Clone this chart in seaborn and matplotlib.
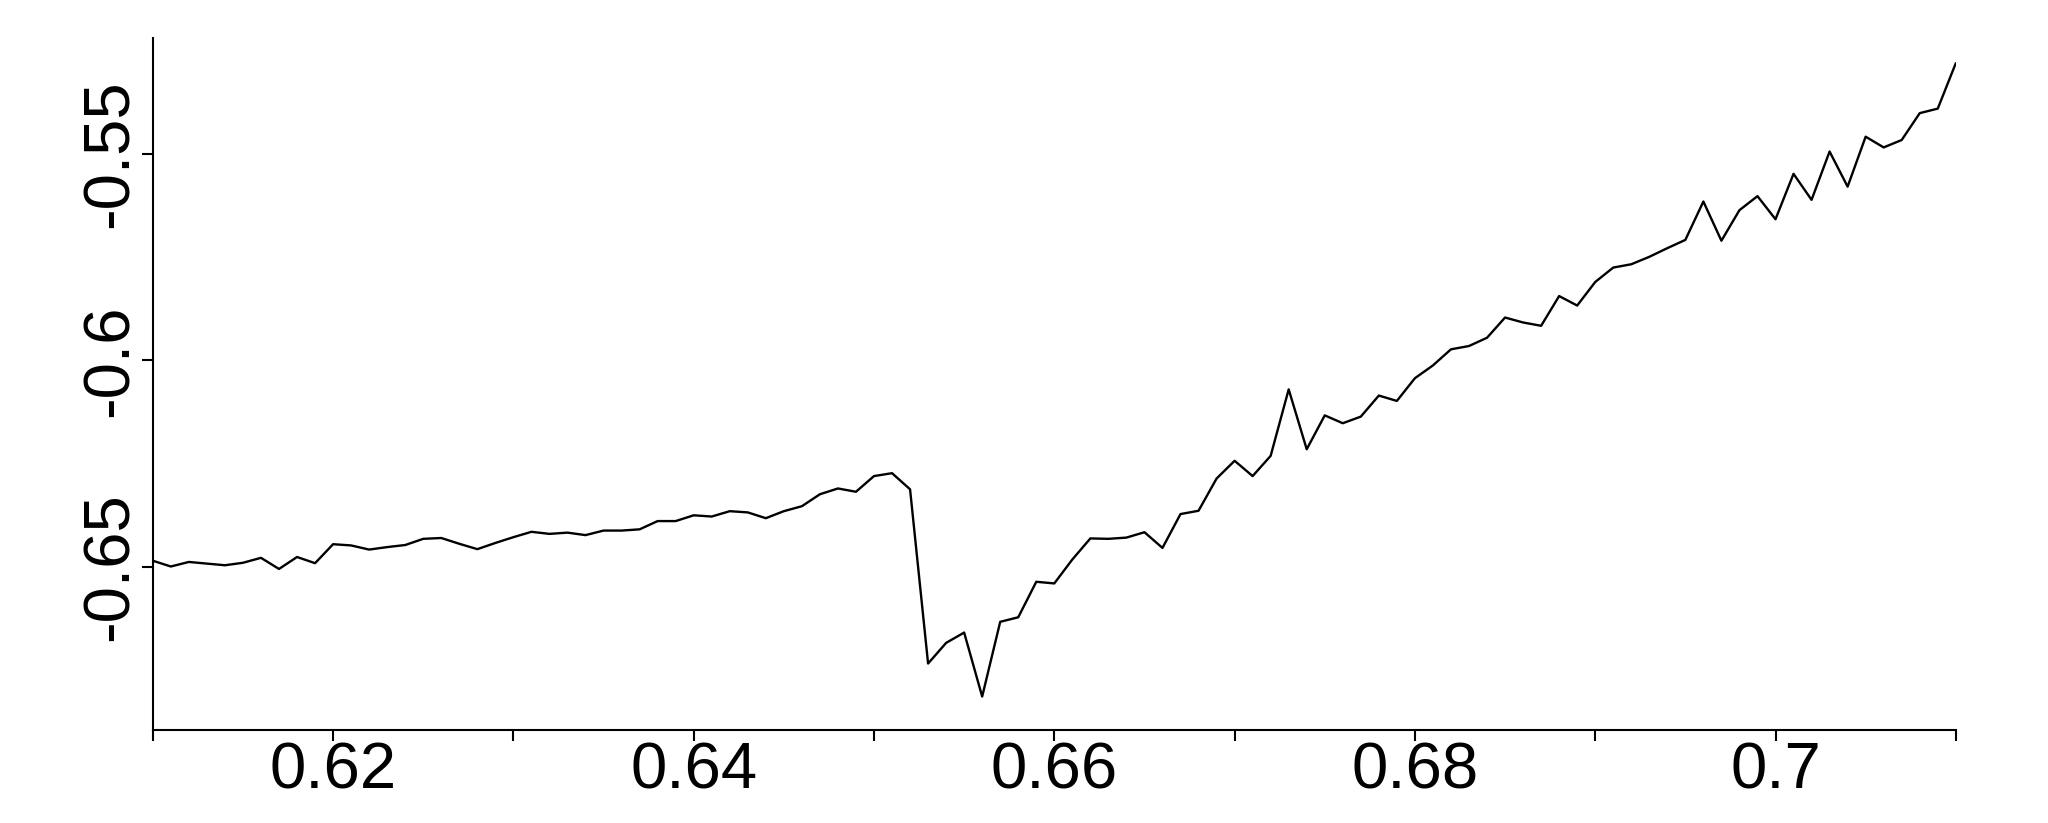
import numpy as np
import pandas as pd
import matplotlib
matplotlib.use("Agg")
import matplotlib.pyplot as plt
import seaborn as sns

# ---- data -----------------------------------------------------------
x_start = 0.610
x_step = 0.001
y_values = [
    -0.6485, -0.6499, -0.6488, -0.6492, -0.6496, -0.6490, -0.6478, -0.6505, -0.6476, -0.6491,
    -0.6445, -0.6448, -0.6458, -0.6452, -0.6447, -0.6432, -0.6430, -0.6444, -0.6457, -0.6442,
    -0.6428, -0.6415, -0.6420, -0.6417, -0.6423, -0.6412, -0.6412, -0.6409, -0.6389, -0.6389,
    -0.6375, -0.6378, -0.6365, -0.6368, -0.6382, -0.6365, -0.6353, -0.6324, -0.6310, -0.6318,
    -0.6280, -0.6273, -0.6312, -0.6734, -0.6684, -0.6659, -0.6814, -0.6633, -0.6622, -0.6536,
    -0.6540, -0.6482, -0.6431, -0.6432, -0.6429, -0.6416, -0.6454, -0.6372, -0.6364, -0.6286,
    -0.6243, -0.6280, -0.6231, -0.6070, -0.6215, -0.6133, -0.6152, -0.6136, -0.6085, -0.6098,
    -0.6043, -0.6012, -0.5973, -0.5965, -0.5945, -0.5896, -0.5908, -0.5916, -0.5844, -0.5867,
    -0.5810, -0.5775, -0.5767, -0.5749, -0.5728, -0.5708, -0.5615, -0.5710, -0.5636, -0.5602,
    -0.5658, -0.5548, -0.5611, -0.5494, -0.5579, -0.5458, -0.5484, -0.5466, -0.5401, -0.5390,
    -0.5280,
]
x_values = np.round(x_start + x_step * np.arange(len(y_values)), 3)

x_major_ticks = [0.62, 0.64, 0.66, 0.68, 0.70]
x_major_labels = ["0.62", "0.64", "0.66", "0.68", "0.7"]
x_minor_ticks = [0.61, 0.63, 0.65, 0.67, 0.69, 0.71]
y_ticks = [-0.65, -0.60, -0.55]
y_labels = ["-0.65", "-0.6", "-0.55"]

df = pd.DataFrame({"x": x_values, "y": y_values})

# ---- style ----------------------------------------------------------
sns.set_theme(style="ticks")
plt.rcParams["font.family"] = ["Liberation Sans", "DejaVu Sans"]

fig = plt.figure(figsize=(20.48, 8.23), dpi=100)
ax = fig.add_axes([152.8 / 2048, 1 - 730 / 823, (1955.8 - 152.8) / 2048, (730 - 38) / 823])

sns.lineplot(data=df, x="x", y="y", ax=ax, color="black", linewidth=1.7)

ax.set_xlim(0.61, 0.71)
ax.set_ylim(-0.6895, -0.5219)
ax.set_xlabel("")
ax.set_ylabel("")

ax.set_xticks(x_major_ticks)
ax.set_xticklabels(x_major_labels)
ax.set_xticks(x_minor_ticks, minor=True)
ax.set_yticks(y_ticks)
ax.set_yticklabels(y_labels, rotation=90, va="center")

for s in ["top", "right"]:
    ax.spines[s].set_visible(False)
for s in ["left", "bottom"]:
    ax.spines[s].set_linewidth(1.5)
    ax.spines[s].set_color("black")

ax.tick_params(axis="both", which="both", direction="out", length=8, width=1.5,
               color="black", labelcolor="black", labelsize=47)
ax.tick_params(axis="x", which="both", pad=0)
ax.tick_params(axis="y", which="both", pad=1)

fig.savefig("out.png", dpi=100, facecolor="white")
